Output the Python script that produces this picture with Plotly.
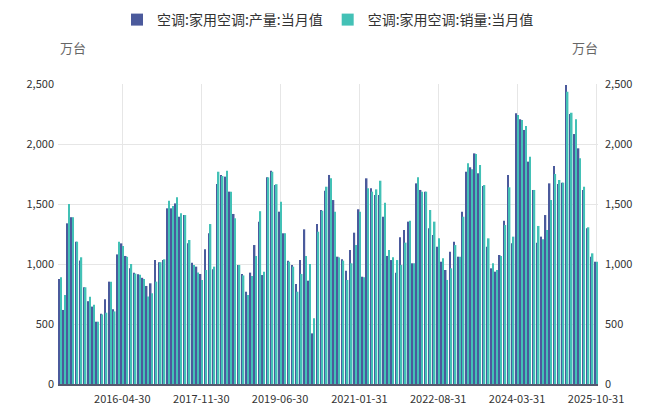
import plotly.graph_objects as go
import pandas as pd

months = pd.date_range("2015-01-31", "2025-10-31", freq="ME").strftime("%Y-%m-%d").tolist()

production = [
    875, 617, 1339, 1390, 1186, 1030, 806, 690, 645, 519, 585, 706,
    853, 622, 1080, 1172, 1067, 964, 928, 915, 885, 817, 839, 1033,
    1015, 1033, 1464, 1464, 1505, 1394, 1408, 1172, 1011, 978, 917, 1122,
    1256, 956, 1667, 1742, 1728, 1603, 1417, 992, 917, 769, 928, 1158,
    1353, 908, 1722, 1778, 1658, 1436, 1256, 1028, 992, 833, 1033, 1289,
    861, 422, 1333, 1450, 1611, 1742, 1533, 1061, 1039, 944, 1117, 1261,
    1456, 894, 1714, 1631, 1575, 1575, 1394, 1067, 1033, 928, 1222, 1283,
    1353, 1006, 1672, 1617, 1603, 1297, 1242, 1144, 1019, 950, 1103, 1186,
    1061, 1436, 1769, 1806, 1922, 1756, 1650, 1144, 964, 936, 1075, 1361,
    1742, 1172, 2256, 2206, 2117, 1853, 1617, 1178, 1228, 1408, 1672, 1817,
    1667, 1678, 2492, 2250, 2083, 1964, 1617, 1297, 1061, 1019,
]
sales = [
    890, 742, 1500, 1390, 1186, 1056, 806, 728, 660, 519, 580, 594,
    853, 605, 1186, 1150, 1060, 1000, 920, 910, 875, 730, 756, 853,
    1015, 1039, 1528, 1483, 1556, 1422, 1408, 1200, 992, 930, 867, 950,
    1333, 978, 1769, 1733, 1778, 1603, 1381, 992, 905, 742, 900, 1067,
    1440, 936, 1722, 1769, 1665, 1519, 1256, 1019, 978, 769, 917, 1067,
    1000, 547, 1269, 1444, 1644, 1714, 1436, 1055, 1028, 867, 1006, 1158,
    1436, 890, 1631, 1603, 1622, 1694, 1511, 1117, 1056, 1033, 992, 1178,
    1361, 1006, 1722, 1603, 1603, 1450, 1353, 1214, 1047, 867, 964, 1158,
    1061, 1394, 1839, 1789, 1917, 1825, 1658, 1214, 1006, 950, 1067, 1325,
    1639, 1228, 2242, 2200, 2150, 1894, 1617, 1317, 1206, 1283, 1533, 1750,
    1700, 1678, 2436, 2261, 2206, 1881, 1644, 1306, 1089, 1019,
]

tick_labels = ["2016-04-30", "2017-11-30", "2019-06-30", "2021-01-31",
               "2022-08-31", "2024-03-31", "2025-10-31"]
y_ticks = [0, 500, 1000, 1500, 2000, 2500]

name_p = "空调:家用空调:产量:当月值"
name_s = "空调:家用空调:销量:当月值"
col_p = "#4B5A9C"
col_s = "#43C1B6"
font_family = "Noto Sans CJK SC, Noto Sans, sans-serif"

# page body has an 8px margin, so the figure is sized to fit the 648x406 window
W, H = 640, 398
ML, MR, MT, MB = 50, 50, 76, 22

fig = go.Figure()
fig.add_trace(go.Bar(x=months, y=production, name=name_p, marker_color=col_p,
                     marker_line_width=0))
fig.add_trace(go.Bar(x=months, y=sales, name=name_s, marker_color=col_s,
                     marker_line_width=0))
# invisible companion trace so the right-hand axis is drawn
fig.add_trace(go.Scatter(x=months, y=production, yaxis="y2", mode="markers",
                         marker=dict(opacity=0), showlegend=False,
                         hoverinfo="skip"))

plot_w = W - ML - MR
plot_h = H - MT - MB
def px_to_paper(px, py):
    return (px - ML) / plot_w, (H - MB - py) / plot_h

fig.update_layout(
    width=W, height=H,
    margin=dict(l=ML, r=MR, t=MT, b=MB, autoexpand=False),
    paper_bgcolor="white", plot_bgcolor="white",
    barmode="group", bargap=0.2, bargroupgap=0,
    font=dict(family=font_family, size=11, color="#333333"),
    showlegend=True,
    legend=dict(orientation="h", x=0.5, xanchor="center",
                y=px_to_paper(0, 12)[1], yref="paper", yanchor="middle",
                font=dict(size=14, color="#333333"), traceorder="normal",
                itemsizing="constant"),
    xaxis=dict(
        type="date",
        range=["2015-01-15", "2025-11-14"],
        tickmode="array", tickvals=tick_labels, ticktext=tick_labels,
        showgrid=True, gridcolor="#E6E6E6", gridwidth=1,
        showline=True, linecolor="#555A6E", linewidth=1.5,
        ticks="", tickfont=dict(size=11, color="#333333"),
        ticklabelstandoff=4,
        zeroline=False, automargin=False,
    ),
    yaxis=dict(
        range=[0, 2500], tickvals=y_ticks, tickformat=",d",
        showgrid=True, gridcolor="#E6E6E6", gridwidth=1,
        zeroline=False, showline=False, ticks="",
        tickfont=dict(size=11, color="#333333"), automargin=False,
        ticklabelstandoff=3,
    ),
    yaxis2=dict(
        range=[0, 2500], tickvals=y_ticks, tickformat=",d",
        overlaying="y", side="right", showgrid=False,
        zeroline=False, showline=False, ticks="",
        tickfont=dict(size=11, color="#333333"), automargin=False,
        ticklabelstandoff=6,
    ),
)

lx, ly = px_to_paper(65, 39)
rx, ry = px_to_paper(577, 39)
fig.add_annotation(text="万台", x=lx, y=ly, xref="paper", yref="paper",
                   xanchor="center", yanchor="middle",
                   showarrow=False, font=dict(size=13, color="#666666"))
fig.add_annotation(text="万台", x=rx, y=ry, xref="paper", yref="paper",
                   xanchor="center", yanchor="middle",
                   showarrow=False, font=dict(size=13, color="#666666"))

fig.write_html("out.html")
